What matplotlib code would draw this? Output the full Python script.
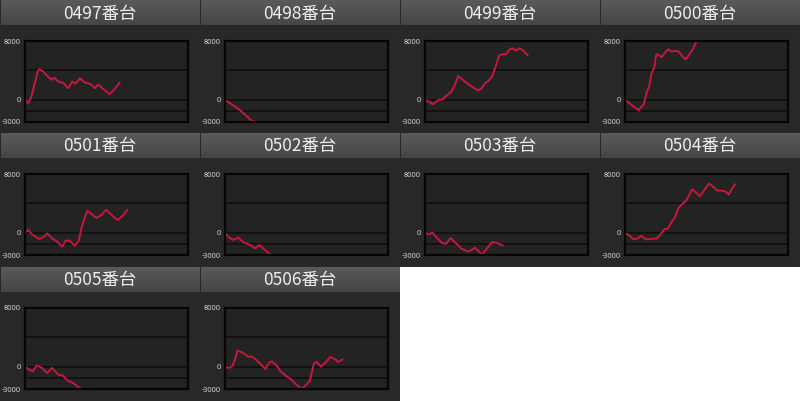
import matplotlib
matplotlib.use("Agg")
import numpy as np
import matplotlib.pyplot as plt
from matplotlib.patches import Rectangle

plt.rcParams['font.family'] = ['Noto Sans CJK JP', 'DejaVu Sans']

# machine names
titles = ["0497番台", "0498番台", "0499番台", "0500番台", "0501番台",
          "0502番台", "0503番台", "0504番台", "0505番台", "0506番台"]

# x = position along the day (percent of axis), y = coins difference
x0497 = [0.6, 2, 4, 6, 7.8, 8.8, 11, 13, 16.3, 17.8, 20.4, 23.5, 26.5, 29, 31, 33.7,
         36.7, 39.8, 42.9, 44.9, 48, 52, 55, 58]
y0497 = [0, -430, 470, 2270, 3850, 4170, 3900, 3400, 2730, 3040, 2500, 2300, 1600, 2500,
         2190, 2950, 2370, 2190, 1600, 2100, 1460, 790, 1500, 2300]

x0498 = [0, 4.1, 9.2, 13.3, 16.4, 18.5]
y0498 = [0, -610, -1390, -2210, -2850, -2950]

x0499 = [0, 2.7, 4.7, 6.7, 8.8, 10.8, 12.2, 14.3, 16.3, 18.4, 20.4, 23.5, 26.5, 29.6,
         32.2, 34.3, 36.7, 38.8, 41.2, 43.3, 45.3, 46.9, 49.6, 52, 53.7, 55.7, 57.8,
         59.8, 62.9]
y0499 = [0, -270, -590, -270, 50, 50, 410, 770, 1180, 2090, 3230, 2680, 2140, 1680,
         1320, 1450, 2230, 2550, 3230, 4500, 5950, 6180, 6180, 6860, 7000, 6680, 7000,
         6770, 6090]

x0500 = [0, 3.5, 6.1, 8.2, 10, 11.6, 13.3, 14.7, 16.3, 17.8, 19.2, 20.4, 22.4, 24.5,
         26.5, 28.6, 31, 33, 35.1, 37.1, 39.2, 41.6, 43.7]
y0500 = [0, -590, -1040, -1410, -950, -590, 1090, 1680, 3680, 4270, 6180, 6180, 5770,
         6410, 6860, 6550, 6680, 6550, 5950, 5500, 6090, 6860, 7910]

x0501 = [0, 1.8, 4.5, 8.6, 11.6, 13.7, 16.3, 18.8, 20.8, 22.9, 24.9, 27.3, 30.6, 33,
         34.7, 36.7, 38.2, 41.2, 43.7, 46.9, 49.8, 53.5, 56.9, 60, 62.7]
y0501 = [0, 400, -240, -830, -510, -60, -690, -1050, -1410, -1870, -1050, -1050, -1730,
         -1050, 760, 2030, 3020, 2480, 2030, 2430, 3160, 2340, 1750, 2340, 3110]

x0502 = [0, 2.7, 5.1, 8.2, 11.3, 15.4, 18.5, 21.1, 24.6, 27.7]
y0502 = [0, -680, -950, -640, -1270, -1640, -2090, -1640, -2320, -2910]

x0503 = [0, 2.5, 4.6, 7.8, 10.5, 13, 15.7, 19.3, 22.4, 26.6, 30.8, 35, 38.6, 41.3,
         44.4, 47.6]
y0503 = [0, -180, 50, -780, -1380, -1470, -690, -1470, -2160, -2530, -2020, -2950,
         -1930, -1240, -1380, -1700]

x0504 = [0, 2.5, 5.3, 7.4, 10.1, 12.6, 14.7, 17.3, 19.4, 21.7, 24.2, 26.3, 28.4, 30.5,
         32.6, 34.7, 37.5, 39, 41.1, 43.2, 45.9, 48.4, 51.6, 53.7, 56.4, 58.9, 61.5,
         63.6, 65.7, 67.4]
y0504 = [0, -320, -870, -780, -410, -870, -870, -780, -780, -230, 500, 590, 1410, 2050,
         3330, 3830, 4380, 4980, 5920, 5570, 4980, 5750, 6720, 6350, 5750, 5750, 5650,
         5200, 6030, 6580]

x0505 = [0, 2.5, 4.8, 7.3, 10.5, 13.6, 16.7, 20.5, 23, 26.2, 29.7, 32.4, 34.1, 36.5,
         38.7, 40.5]
y0505 = [0, -350, -580, 200, -140, -830, -140, -1060, -1150, -1850, -2220, -2670,
         -2900, -3600, -2950, -3600]

x0506 = [0, 2.7, 4.8, 6.3, 7.6, 9.7, 12.2, 14.3, 16.4, 19.5, 22.7, 24.8, 26.9, 28.6,
         31.1, 34.2, 37.4, 40.5, 43.7, 46.8, 49.6, 52.1, 54.6, 56.3, 58.8, 60.9, 64.7,
         67.9, 69.3, 72]
y0506 = [0, -140, 190, 1120, 2200, 2060, 1730, 1350, 1450, 890, 190, -280, 510, 750,
         330, -610, -1220, -1690, -2390, -3000, -2480, -1830, 510, 660, 40, 420, 1350,
         980, 660, 980]

series = [(x0497, y0497), (x0498, y0498), (x0499, y0499), (x0500, y0500),
          (x0501, y0501), (x0502, y0502), (x0503, y0503), (x0504, y0504),
          (x0505, y0505), (x0506, y0506)]

yticks = [8000, 0, -3000]
gridlines = [4000, 0, -1500]

W, H = 800, 401
fig = plt.figure(figsize=(W / 100, H / 100), dpi=100, facecolor='white')


def frac(x, y, w, h):
    return [x / W, 1 - (y + h) / H, w / W, h / H]


bg = fig.add_axes([0, 0, 1, 1])
bg.axis('off')

row_top = [0, 133, 267]
row_h = [133, 134, 134]

# header shading, light at the top, darker at the bottom
top_col = np.array([0x5a, 0x5a, 0x5a]) / 255
bot_col = np.array([0x46, 0x46, 0x46]) / 255
t = np.linspace(0, 1, 40).reshape(-1, 1, 1)
grad = top_col * (1 - t) + bot_col * t
grad = np.repeat(grad, 2, axis=1)

for i, (title, (xs, ys)) in enumerate(zip(titles, series)):
    r, c = divmod(i, 4)
    cx, cy = c * 200, row_top[r]
    bg.add_patch(Rectangle((cx, cy), 200, row_h[r], color='#282828', lw=0, zorder=0))
    bg.imshow(grad, extent=(cx + 0.5, cx + 199.5, cy + 25, cy), aspect='auto',
              interpolation='bilinear', zorder=1)
    bg.text(cx + 100, cy + 13.5, title, ha='center', va='center', fontsize=12.5,
            color='#eeeeee', zorder=2)

    ax = fig.add_axes(frac(cx + 25, cy + 41, 163, 81))
    ax.set_facecolor('#232323')
    for y in gridlines:
        ax.axhline(y, color='#0e0e0e', lw=1.1, zorder=1)
    ax.plot(xs, ys, color='#c8173f', lw=1.4, solid_joinstyle='round', zorder=2)
    ax.set_xlim(0, 100)
    ax.set_ylim(-3000, 8000)
    ax.set_xticks([])
    ax.set_yticks(yticks)
    ax.set_yticklabels([str(v) for v in yticks], family='Roboto')
    ax.tick_params(axis='y', length=0, pad=3, labelsize=5.5, labelcolor='#cfcfcf')
    for s in ax.spines.values():
        s.set_color('#050505')
        s.set_linewidth(1.6)

bg.set_xlim(0, W)
bg.set_ylim(H, 0)

fig.savefig('out.png', dpi=100, facecolor=fig.get_facecolor())
